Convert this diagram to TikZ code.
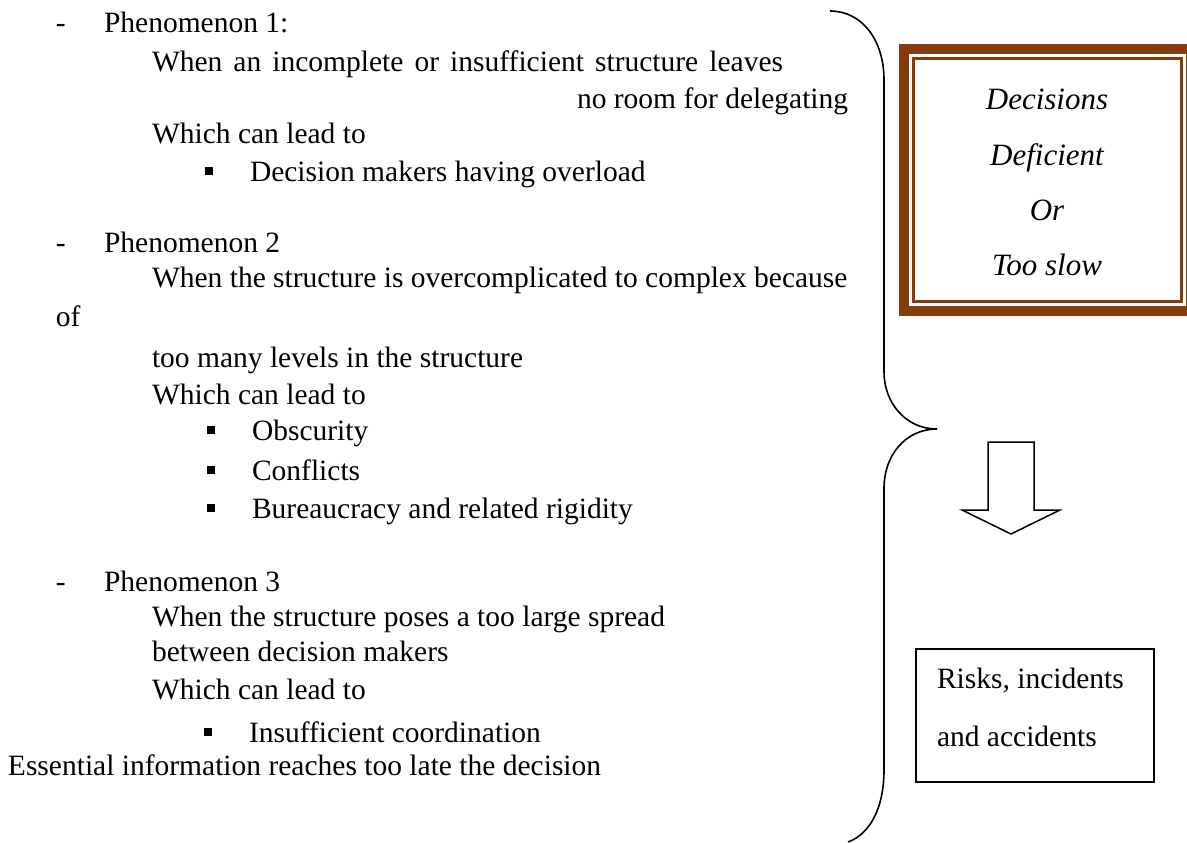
\documentclass[tikz,border=0pt]{standalone}
\usepackage{fontspec}
\setmainfont{Liberation Serif}
\definecolor{framebrown}{RGB}{132,60,12}
\begin{document}
\begin{tikzpicture}[x=1pt,y=-1pt,
  every node/.style={inner sep=0pt, outer sep=0pt},
  txt/.style={anchor=base west, font=\fontsize{29.5}{36}\selectfont},
  itx/.style={anchor=base, font=\fontsize{31}{36}\selectfont\itshape},
  bul/.style={fill=black, minimum size=8pt, inner sep=0pt},
  outline/.style={draw=black, line width=1.5pt, line join=miter}]
\useasboundingbox (0,0) rectangle (1187,843);

% ---- left column: the three phenomena ----
\node[txt] (d1) at (56,33) {-};
\node[txt] (p1) at (104,33) {Phenomenon 1:};
\node[txt] (p1a) at (152,72) {\makebox[631pt][s]{When an incomplete or insufficient structure leaves}};
\node[txt] (p1b) at (577,108) {no room for delegating};
\node[txt] (p1c) at (152,143) {Which can lead to};
\node[bul] (b1) at (208.5,171) {};
\node[txt] (p1d) at (250,181) {Decision makers having overload};

\node[txt] (d2) at (56,252) {-};
\node[txt] (p2) at (104,252) {Phenomenon 2};
\node[txt] (p2a) at (152,287) {When the structure is overcomplicated to complex because};
\node[txt] (p2b) at (56,326) {of};
\node[txt] (p2c) at (152,367) {too many levels in the structure};
\node[txt] (p2d) at (152,404) {Which can lead to};
\node[bul] (b2) at (210.5,430) {};
\node[txt] (p2e) at (252,440) {Obscurity};
\node[bul] (b3) at (210.5,470) {};
\node[txt] (p2f) at (252,480) {Conflicts};
\node[bul] (b4) at (210.5,508) {};
\node[txt] (p2g) at (252,518) {Bureaucracy and related rigidity};

\node[txt] (d3) at (56,591) {-};
\node[txt] (p3) at (104,591) {Phenomenon 3};
\node[txt] (p3a) at (152,626) {When the structure poses a too large spread};
\node[txt] (p3b) at (152,661) {between decision makers};
\node[txt] (p3c) at (152,699) {Which can lead to};
\node[bul] (b5) at (207.5,732) {};
\node[txt] (p3d) at (249,742) {Insufficient coordination};
\node[txt] (p3e) at (8,775) {Essential information reaches too late the decision};

% ---- curly brace ----
\draw[line width=1.6pt]
  (830,11) .. controls (862,11) and (884,40) .. (884,80)
  -- (884,372) .. controls (884,402) and (905,429) .. (937,429)
  .. controls (905,429) and (884,456) .. (884,488)
  -- (884,770) .. controls (884,808) and (870,834) .. (848,842);

% ---- framed result box ----
\begin{scope}
  \clip (0,0) rectangle (1187,843);
  \fill[framebrown] (899,44) rectangle (1196,316);
  \fill[white] (909,54) rectangle (1186,306);
  \draw[framebrown, line width=2.5pt] (913.5,58.5) rectangle (1181.5,301.5);
\end{scope}
\node[itx] (r1) at (1047,110) {Decisions};
\node[itx] (r2) at (1047,165) {Deficient};
\node[itx] (r3) at (1047,220) {Or};
\node[itx] (r4) at (1047,275) {Too slow};

% ---- block arrow ----
\draw[outline] (988,442) -- (1034,442) -- (1034,510) -- (1060,510)
  -- (1011,534) -- (962,510) -- (988,510) -- cycle;

% ---- consequence box ----
\draw[line width=1.3pt] (916,649) rectangle (1154,782);
\node[txt] (k1) at (937,688) {Risks, incidents};
\node[txt] (k2) at (937,746) {and accidents};
\end{tikzpicture}
\end{document}
